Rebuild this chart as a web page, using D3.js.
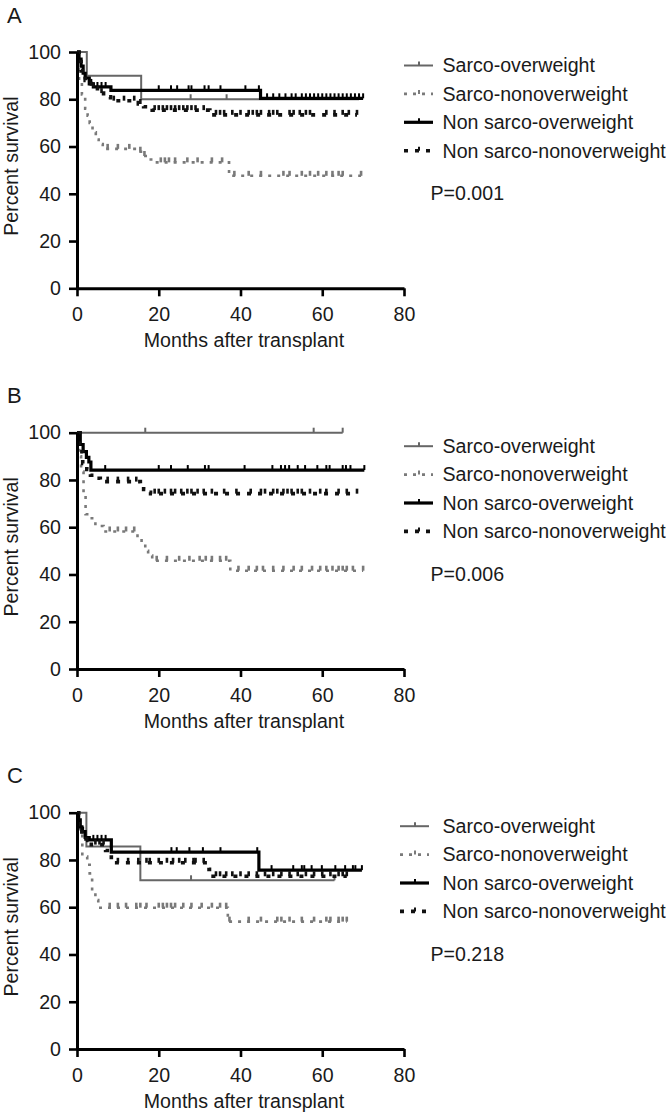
<!DOCTYPE html>
<html>
<head>
<meta charset="utf-8">
<script src="https://cdn.jsdelivr.net/npm/d3@7"></script>
<style>
  html, body { margin: 0; padding: 0; background: #fff; }
  svg { display: block; }
  text { font-family: "Liberation Sans", Arial, Helvetica, sans-serif; fill: #1a1a1a; }
</style>
</head>
<body>
<svg id="chart" width="666" height="1114"></svg>
<script>
// ---------- data ----------
const seriesNames = ["Sarco-overweight", "Sarco-nonoverweight", "Non sarco-overweight", "Non sarco-nonoverweight"];
const panelLabels = ["A", "B", "C"];
const pValues = ["P=0.001", "P=0.006", "P=0.218"];
const xTicks = [0, 20, 40, 60, 80];
const yTicks = [0, 20, 40, 60, 80, 100];

// Panel A
const A_so_t = [0, 2.4, 15.7];           const A_so_s = [100, 90, 80];      const A_so_end = 69;
const A_so_c = [27.8, 36.6, 69];
const A_sn_t = [0, 0.5, 1.2, 2.0, 2.6, 3.1, 3.8, 4.6, 5.3, 6.3, 14.8, 16.2, 17.3, 18.5, 37.2];
const A_sn_s = [100, 88, 82, 76, 73, 70, 66, 63, 61, 59, 57.8, 56, 54.5, 53.3, 47.6];
const A_sn_end = 69.5;
const A_sn_c = [7.5, 10, 12.8, 15.5, 16.5, 20.5, 21.5, 22.5, 24, 27, 29.5, 33, 35.5, 38.5, 42, 45, 50.5, 52, 55, 57, 59, 61, 62.5, 64, 65, 69.5];
const A_no_t = [0, 0.5, 1, 1.5, 2, 3, 4, 8.3, 44.9];
const A_no_s = [100, 97, 94, 91, 89, 86.5, 85.2, 83.8, 80.4];
const A_no_end = 70;
const A_no_c = [3.5, 5, 6, 7, 20, 23, 24.5, 27.3, 28, 31.2, 32.2, 35.1, 41.2, 44.5, 46.5, 48, 49.5, 51, 52.5, 53.5, 55, 56, 57, 58, 59, 60, 61, 62, 63, 64, 65, 66, 67, 68, 69, 70];
const A_nn_t = [0, 0.5, 1, 2, 3.5, 5, 6.5, 8.2, 15, 16.3, 17.5, 18.4, 32.5];
const A_nn_s = [100, 96, 92, 88, 85, 82.6, 81, 79.4, 78, 76.8, 76, 75.4, 73.4];
const A_nn_end = 68.5;
const A_nn_c = [4, 6, 9, 11.5, 14, 15.5, 19, 20, 21, 22, 23, 24, 25, 26, 27, 28, 29, 31, 34, 35, 36, 38, 40, 42, 43, 44, 45, 47, 48, 49, 52, 53, 54.5, 56, 57, 61, 63, 65, 66.5, 68.5];

// Panel B
const B_so_t = [0];                       const B_so_s = [100];              const B_so_end = 65;
const B_so_c = [16.7, 57.9, 65];
const B_sn_t = [0, 0.5, 1.0, 1.6, 2.1, 3.0, 4.5, 6.5, 14.8, 15.8, 16.7, 17.4, 18.4, 37.5];
const B_sn_s = [100, 90, 83.6, 74, 65.5, 63.8, 60.5, 58.2, 55.7, 53.5, 50, 48, 45.8, 41.6];
const B_sn_end = 70;
const B_sn_c = [8, 10, 12, 14, 19.5, 22, 25, 27.5, 30, 31.5, 33, 35, 36.5, 39.5, 42, 44, 45.5, 48, 50.5, 53, 55, 57.5, 59.5, 61, 62.5, 64, 65, 66, 67.5, 70];
const B_no_t = [0, 0.8, 1.5, 2.3, 2.9, 3.4];
const B_no_s = [100, 95, 92, 89.6, 87.6, 84.2];
const B_no_end = 70.3;
const B_no_c = [6.9, 20, 23, 27.1, 31.3, 32.2, 41, 47.8, 49.9, 50.9, 51.9, 54, 55.8, 58.8, 61, 61.8, 65, 65.8, 66.9, 70.3];
const B_nn_t = [0, 0.6, 1.4, 2.4, 3.3, 4.5, 5.7, 15.5, 16.3, 17.1, 18.0];
const B_nn_s = [100, 92, 87, 84.5, 82, 80.7, 79.3, 77.7, 76, 74.8, 74.2];
const B_nn_end = 68.5;
const B_nn_c = [7.5, 10, 12.5, 14.5, 19, 20, 21.5, 23, 24, 25.5, 27, 28, 29.5, 31, 33, 36, 39, 42.5, 45, 46, 48, 49, 50.5, 51.5, 52.5, 54, 55, 57, 59.5, 61, 64, 66, 68.5];

// Panel C
const C_so_t = [0, 2.3, 15.5];           const C_so_s = [100, 85.7, 71.4];  const C_so_end = 63;
const C_so_c = [27.9, 63];
const C_sn_t = [0, 0.4, 1.3, 2.5, 3.1, 3.7, 4.5, 5.2, 36.9];
const C_sn_s = [100, 93, 81.4, 78, 74.3, 66.6, 63, 59.8, 53.9];
const C_sn_end = 66;
const C_sn_c = [8, 10, 12, 14.5, 15.5, 17, 20, 21, 22, 23, 24, 26, 28, 30.5, 33, 35, 36.5, 37.3, 42, 45, 49, 50, 52, 55, 58, 61, 62, 64, 65, 66];
const C_no_t = [0, 0.4, 0.8, 1.2, 2.0, 3.0, 8.4, 44.5];
const C_no_s = [100, 97, 94, 92, 89.5, 88.5, 83.3, 75.7];
const C_no_end = 69.7;
const C_no_c = [1.5, 4, 5, 6, 7, 23.1, 24.4, 27.5, 30.8, 35.1, 44.1, 47.6, 52.9, 55, 55.6, 57.4, 59.9, 63.2, 65.6, 67.5, 68.1, 69.7];
const C_nn_t = [0, 0.4, 1.2, 2.2, 3.5, 7.0, 8.4, 32.3, 33.3];
const C_nn_s = [100, 95, 91, 87.5, 86.5, 84, 78.8, 76, 73.1];
const C_nn_end = 66;
const C_nn_c = [2.5, 4.5, 5.5, 6.5, 10, 12.5, 15, 17, 17.8, 20, 22, 23.5, 25, 26.5, 28.5, 29, 31, 34, 35, 36.5, 38, 40, 42, 44, 46, 48, 50, 52, 54, 56, 58, 60, 62, 64, 65, 66];

// ---------- styles ----------
const styles = [
  { color: "#666666", width: 2,   dash: null },
  { color: "#7a7a7a", width: 2.6, dash: "3,6" },
  { color: "#000000", width: 3.2, dash: null },
  { color: "#111111", width: 3.6, dash: "4,7" }
];

const panels = [
  { top: 52,    series: [[A_so_t, A_so_s, A_so_end, A_so_c], [A_sn_t, A_sn_s, A_sn_end, A_sn_c], [A_no_t, A_no_s, A_no_end, A_no_c], [A_nn_t, A_nn_s, A_nn_end, A_nn_c]], legX: 404 },
  { top: 432.7, series: [[B_so_t, B_so_s, B_so_end, B_so_c], [B_sn_t, B_sn_s, B_sn_end, B_sn_c], [B_no_t, B_no_s, B_no_end, B_no_c], [B_nn_t, B_nn_s, B_nn_end, B_nn_c]], legX: 404 },
  { top: 812.7, series: [[C_so_t, C_so_s, C_so_end, C_so_c], [C_sn_t, C_sn_s, C_sn_end, C_sn_c], [C_no_t, C_no_s, C_no_end, C_no_c], [C_nn_t, C_nn_s, C_nn_end, C_nn_c]], legX: 400 }
];

const svg = d3.select("#chart");
const plotH = 236.3;
const x = d3.scaleLinear().domain([0, 80]).range([77, 404]);
const FS = 19.6;

function stepValue(t, s, c) {
  let v = s[0];
  for (let i = 0; i < t.length; i++) { if (t[i] <= c) v = s[i]; }
  return v;
}

panels.forEach((p, pi) => {
  const y = d3.scaleLinear().domain([0, 100]).range([p.top + plotH, p.top]);
  const g = svg.append("g");

  // panel label
  g.append("text").attr("x", 7).attr("y", p.top - 29.5)
    .style("font-size", "22px").text(panelLabels[pi]);

  // series
  p.series.forEach((sr, si) => {
    const [t, s, end, cens] = sr;
    const st = styles[si];
    const pts = t.map((tt, i) => [tt, s[i]]);
    pts.push([end, s[s.length - 1]]);
    const line = d3.line().x(d => x(d[0])).y(d => y(d[1])).curve(d3.curveStepAfter);
    g.append("path").attr("d", line(pts)).attr("fill", "none")
      .attr("stroke", st.color).attr("stroke-width", st.width)
      .attr("stroke-dasharray", st.dash);
    g.selectAll(null).data(cens).enter().append("line")
      .attr("x1", c => x(c)).attr("x2", c => x(c))
      .attr("y1", c => y(stepValue(t, s, c)))
      .attr("y2", c => y(stepValue(t, s, c)) - 5)
      .attr("stroke", st.color).attr("stroke-width", si % 2 === 1 ? 2.6 : 2);
  });

  // axes
  const yAxis = d3.axisLeft(y).tickValues(yTicks).tickSize(8).tickSizeOuter(0).tickPadding(8);
  const gy = g.append("g").attr("transform", `translate(${x(0)},0)`).call(yAxis);
  const xAxis = d3.axisBottom(x).tickValues(xTicks).tickSize(8).tickSizeOuter(0).tickPadding(11);
  const gx = g.append("g").attr("transform", `translate(0,${y(0)})`).call(xAxis);
  [gx, gy].forEach(a => {
    a.select(".domain").attr("stroke", "#000").attr("stroke-width", 3);
    a.selectAll(".tick line").attr("stroke", "#000").attr("stroke-width", 2.6);
    a.selectAll(".tick text").style("font-size", FS + "px").attr("fill", "#1a1a1a")
      .style("font-family", '"Liberation Sans", Arial, sans-serif');
  });

  // axis titles
  g.append("text").attr("transform", `translate(18,${p.top + plotH / 2 - 4}) rotate(-90)`)
    .attr("text-anchor", "middle").style("font-size", FS + "px").text("Percent survival");
  g.append("text").attr("x", 244).attr("y", y(0) + 59)
    .attr("text-anchor", "middle").style("font-size", FS + "px").text("Months after transplant");

  // legend
  seriesNames.forEach((name, si) => {
    const ry = p.top + 13.5 + si * 28.4;
    const st = styles[si];
    g.append("line").attr("x1", p.legX).attr("x2", p.legX + 29).attr("y1", ry).attr("y2", ry)
      .attr("stroke", st.color).attr("stroke-width", st.width)
      .attr("stroke-dasharray", st.dash);
    g.append("line").attr("x1", p.legX + 15).attr("x2", p.legX + 15).attr("y1", ry).attr("y2", ry - 4)
      .attr("stroke", st.color).attr("stroke-width", 2);
    g.append("text").attr("x", 442.5).attr("y", ry).attr("dy", "0.35em")
      .style("font-size", FS + "px").text(name);
  });
  g.append("text").attr("x", 430.5).attr("y", p.top + 141).attr("dy", "0.35em")
    .style("font-size", FS + "px").text(pValues[pi]);
});
</script>
</body>
</html>
